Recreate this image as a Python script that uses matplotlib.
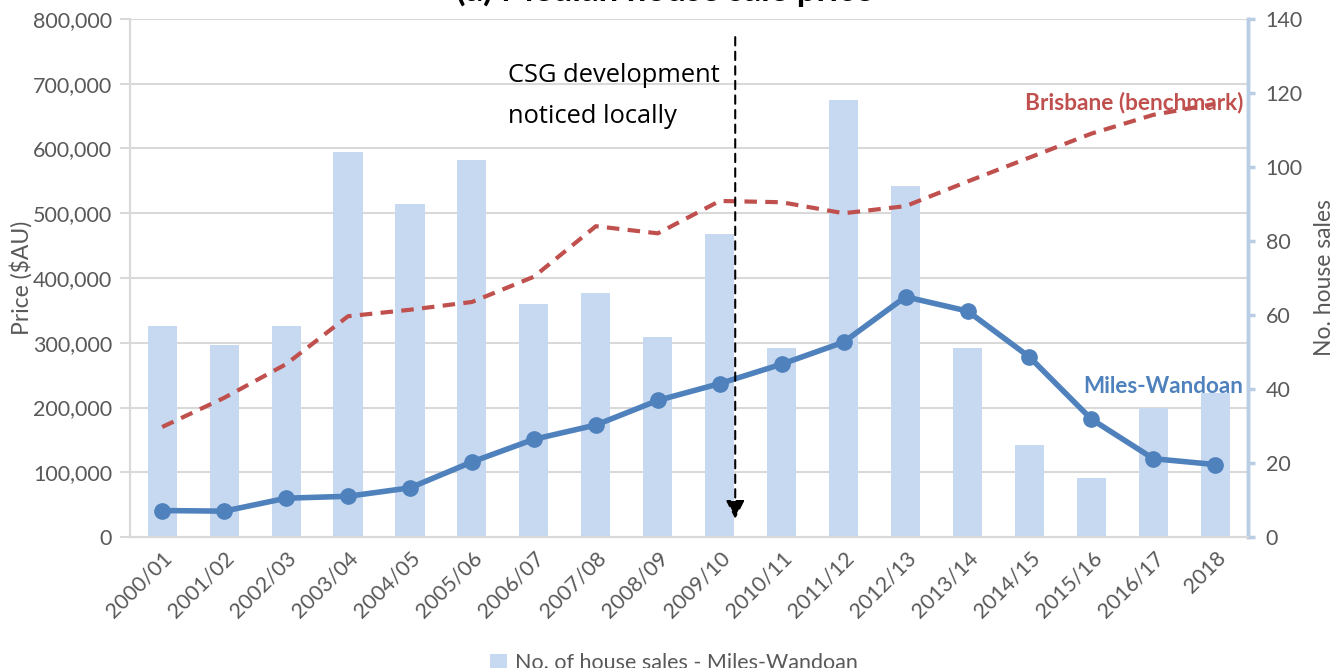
import matplotlib.pyplot as plt
from matplotlib.ticker import FuncFormatter

plt.rcParams['font.family'] = ['Lato', 'DejaVu Sans']

# data
years = ['2000/01', '2001/02', '2002/03', '2003/04', '2004/05', '2005/06',
         '2006/07', '2007/08', '2008/09', '2009/10', '2010/11', '2011/12',
         '2012/13', '2013/14', '2014/15', '2015/16', '2016/17', '2018']
house_sales = [57, 52, 57, 104, 90, 102, 63, 66, 54, 82, 51, 118, 95, 51, 25, 16, 35, 39]
miles_wandoan = [41000, 40000, 60000, 63000, 76000, 116000, 151000, 173000, 211000,
                 237000, 267000, 301000, 371000, 349000, 278000, 182000, 121000, 112000]
brisbane = [170000, 215000, 267000, 341000, 351000, 363000, 402000, 480000, 469000,
            519000, 517000, 500000, 511000, 549000, 586000, 623000, 652000, 669000]
price_ticks = [0, 100000, 200000, 300000, 400000, 500000, 600000, 700000, 800000]
sales_ticks = [0, 20, 40, 60, 80, 100, 120, 140]

bar_col = '#C6D9F0'
blue = '#4F81BD'
red = '#C0504D'
grey = '#595959'
grid_col = '#D9D9D9'

fig = plt.figure(figsize=(13.4, 6.68), dpi=100)
ax_bar = fig.add_axes([0.097, 0.196, 0.834, 0.7756])
ax = ax_bar.twinx()

x = list(range(len(years)))

# bars on the right-hand axis
ax_bar.set_ylim(0, 140)
for v in price_ticks[1:]:
    ax_bar.axhline(v * 140 / 800000, color=grid_col, lw=1.5, zorder=0)
bars = ax_bar.bar(x, house_sales, width=0.47, color=bar_col, zorder=2,
                  label='No. of house sales - Miles-Wandoan')
ax_bar.yaxis.tick_right()
ax_bar.yaxis.set_label_position('right')
ax_bar.set_yticks(sales_ticks)
ax_bar.set_ylabel('No. house sales', fontsize=16.5, color=grey, labelpad=8)
ax_bar.tick_params(axis='y', colors=grey, labelsize=15.5, length=5, width=2.5,
                   color='#B9CDE5', pad=8)

# price lines on the left-hand axis
ax.yaxis.tick_left()
ax.yaxis.set_label_position('left')
ax.set_ylim(0, 800000)
ax.plot(x, brisbane, color=red, lw=3, ls=(0, (3, 2)), zorder=3)
ax.plot(x, miles_wandoan, color=blue, lw=4, marker='o', markersize=11, zorder=4)
ax.set_yticks(price_ticks)
ax.yaxis.set_major_formatter(FuncFormatter(lambda v, p: f'{int(v):,}'))
ax.set_ylabel('Price ($AU)', fontsize=16.5, color=grey)
ax.yaxis.set_label_coords(-0.087, 0.5)
ax.tick_params(axis='y', colors=grey, labelsize=15.5, length=7, width=1.5,
               color=grid_col, pad=6)

ax_bar.set_xlim(-0.52, len(years) - 0.48)
ax_bar.set_xticks(x)
ax_bar.set_xticklabels(years, rotation=45, ha='right', rotation_mode='anchor',
                       fontsize=15.5, color=grey)
ax_bar.tick_params(axis='x', length=0, pad=8)

for a in (ax, ax_bar):
    a.spines['top'].set_visible(False)
    a.spines['left'].set_color(grid_col)
    a.spines['left'].set_linewidth(1.5)
    a.spines['bottom'].set_color(grid_col)
    a.spines['bottom'].set_linewidth(1.5)
    a.spines['right'].set_color('#B9CDE5')
    a.spines['right'].set_linewidth(2.5)

# annotation
arrow_x = 9.25
ax.annotate('', xy=(arrow_x, 28000), xytext=(arrow_x, 772000),
            arrowprops=dict(arrowstyle='-|>', ls=(0, (4, 3)), color='black',
                            lw=1.5, mutation_scale=28, shrinkA=0, shrinkB=0),
            zorder=6)
ax.text(5.58, 712000, 'CSG development', fontsize=18.4, va='center', ha='left',
        family=['Open Sans', 'DejaVu Sans'])
ax.text(5.58, 650000, 'noticed locally', fontsize=18.4, va='center', ha='left',
        family=['Open Sans', 'DejaVu Sans'])
ax.text(17.45, 671000, 'Brisbane (benchmark)', color=red, fontsize=16.3,
        fontweight='bold', ha='right', va='center', zorder=5)
ax.text(17.45, 232000, 'Miles-Wandoan', color=blue, fontsize=16.2,
        fontweight='bold', ha='right', va='center', zorder=5)

fig.text(0.496, 0.9985, '(a) Median house sale price', fontsize=25,
         fontweight='bold', ha='center', va='baseline')

fig.legend(handles=[bars], loc='lower center', bbox_to_anchor=(0.503, -0.037),
           frameon=False, fontsize=15.5, labelcolor=grey, handlelength=0.8,
           handleheight=0.8, handletextpad=0.35)

fig.savefig('out.png', dpi=100)
